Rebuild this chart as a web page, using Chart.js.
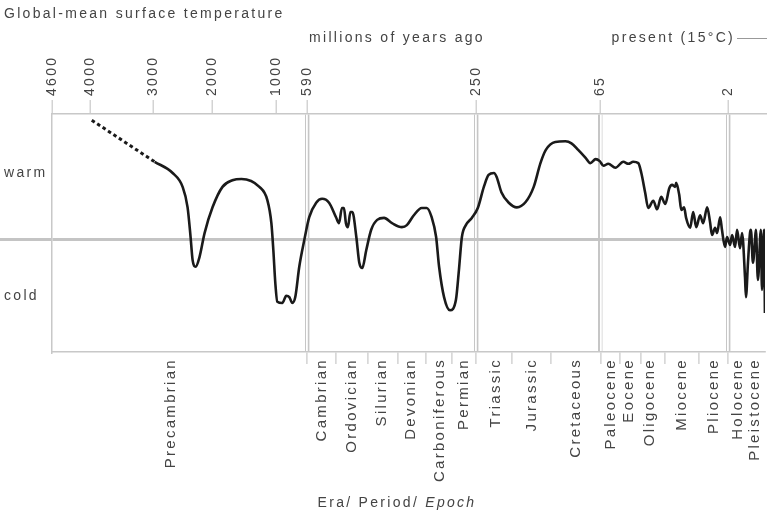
<!DOCTYPE html>
<html>
<head>
<meta charset="utf-8">
<style>
  body { margin: 0; background: #fff; }
  canvas { display: block; }
</style>
<script src="https://cdn.jsdelivr.net/npm/chart.js"></script>
</head>
<body>
<canvas id="lineSuhu" width="767" height="514"></canvas>
<script>
// age in millions of years ago, temperature relative to present (0 = 15°C)
var AGES_EARLY = [3970, 2967];
var TEMP_EARLY = [1.80, 1.17];

var AGES = [2967, 2667, 2500, 2417, 2367, 2333, 2283, 2217, 2133, 2000,
  1844, 1688, 1547, 1266, 1141, 1078, 1047, 1016, 987, 921,
  868, 828, 788, 749, 696, 630, 586, 572, 560, 546,
  532, 526, 520, 516, 512, 508, 503, 499, 491, 485,
  479, 471, 461, 449, 435, 419, 399, 389, 375, 359,
  349, 339, 330, 324, 314, 302, 290, 284, 278, 270,
  258, 247, 238, 231, 223, 219, 212, 201, 189, 176,
  164, 154, 146, 132, 117, 108, 98, 87, 80, 72,
  66, 63.5, 61.1, 57.6, 53.7, 51.2, 48.8, 46.3, 44.8, 42.9,
  41.4, 38.9, 37.0, 35.0, 33.0, 31.0, 29.6, 28.1, 27.6, 26.1,
  25.1, 23.7, 22.7, 20.7, 19.2, 17.7, 15.8, 14.3, 12.3, 10.9,
  9.9, 8.4, 7.4, 5.9, 5.0, 3.5, 2.5, 1.89, 1.78, 1.62,
  1.51, 1.35, 1.24, 1.08, 1.03, 0.92, 0.81, 0.76, 0.65, 0.54,
  0.49, 0.38, 0.22, 0.16, 0.05, 0];
var TEMP = [1.17, 1.00, 0.79, 0.48, 0.03, -0.32, -0.42, -0.27, 0.09, 0.48,
  0.79, 0.89, 0.91, 0.79, 0.59, 0.24, -0.17, -0.67, -0.95, -0.97,
  -0.86, -0.88, -0.97, -0.88, -0.42, -0.02, 0.33, 0.55, 0.61, 0.55,
  0.33, 0.24, 0.47, 0.47, 0.24, 0.18, 0.41, 0.41, 0.03, -0.36,
  -0.44, -0.17, 0.14, 0.29, 0.32, 0.24, 0.18, 0.21, 0.36, 0.47,
  0.47, 0.33, 0.03, -0.42, -0.88, -1.08, -0.92, -0.47, 0.03, 0.21,
  0.32, 0.47, 0.79, 0.97, 1.00, 0.94, 0.71, 0.55, 0.48, 0.56,
  0.79, 1.15, 1.35, 1.47, 1.48, 1.45, 1.35, 1.23, 1.15, 1.21,
  1.18, 1.11, 1.14, 1.08, 1.17, 1.14, 1.17, 1.15, 1.00, 0.70,
  0.47, 0.58, 0.45, 0.64, 0.53, 0.77, 0.82, 0.79, 0.85, 0.67,
  0.44, 0.48, 0.32, 0.17, 0.41, 0.18, 0.36, 0.24, 0.48, 0.26,
  0.06, 0.17, 0.09, 0.33, 0.14, -0.12, 0.03, -0.09, 0.06, -0.12,
  0.14, -0.14, 0.09, -0.58, -0.88, -0.36, 0.09, 0.14, -0.36, -0.02,
  0.14, -0.62, 0.14, -0.77, 0.14, -1.12];

var TICK_AGES = [4600, 4000, 3000, 2000, 1000, 590, 250, 65, 2];
var ERA_LINES = [590, 250, 65, 2];
var BOUNDARY_AGES = [590, 532, 467, 407, 351, 298, 250, 197, 139, 65, 55.6, 44.8, 33, 16.3, 2];
var PERIODS = ['Precambrian', 'Cambrian', 'Ordovician', 'Silurian', 'Devonian', 'Carboniferous', 'Permian',
  'Triassic', 'Jurassic', 'Cretaceous', 'Paleocene', 'Eocene', 'Oligocene', 'Miocene', 'Pliocene',
  'Holocene', 'Pleistocene'];
var PERIOD_AGES = [2700, 560, 501, 439, 381, 322, 274, 220, 167, 102, 60, 51.2, 40.4, 24.7, 8.9, 1.46, 0.54];

var Y_TICKS = [1, 0, -0.86];
var Y_LABELS = ['warm', '', 'cold'];

// the time axis is stretched piecewise: break ages and where they sit along the axis
var AGE_BREAKS = [4600, 4000, 3000, 2000, 1000, 590, 250, 65, 2, 0];
var POS_BREAKS = [0, 38, 101, 161, 225, 256, 425, 550, 678, 715];

function pos(age) {
  for (var i = 1; i < AGE_BREAKS.length; i++) {
    if (age >= AGE_BREAKS[i]) {
      var t = (AGE_BREAKS[i - 1] - age) / (AGE_BREAKS[i - 1] - AGE_BREAKS[i]);
      return POS_BREAKS[i - 1] + t * (POS_BREAKS[i] - POS_BREAKS[i - 1]);
    }
  }
  return POS_BREAKS[POS_BREAKS.length - 1];
}

function toPoints(ages, temps) {
  return ages.map(function (a, i) { return { x: pos(a), y: temps[i] }; });
}

// bottom axis: boundary marks (no label) + period names (no mark)
var bottomTicks = BOUNDARY_AGES.map(function (a) {
  return { value: pos(a), label: '', mark: true, era: ERA_LINES.indexOf(a) >= 0 };
}).concat(PERIOD_AGES.map(function (a, i) {
  return { value: pos(a), label: PERIODS[i], mark: false, era: false };
})).sort(function (p, q) { return p.value - q.value; });

var FONT = { family: '"Liberation Sans", Arial, sans-serif', size: 14 };
var TEXT = '#444';
var FRAME = '#c8c8c8';

var annotations = {
  id: 'annotations',
  beforeDraw: function (chart) {
    chart.ctx.letterSpacing = '2.3px';
  },
  afterDraw: function (chart) {
    var ctx = chart.ctx;
    ctx.save();
    ctx.letterSpacing = '2.3px';
    ctx.fillStyle = TEXT;
    ctx.textBaseline = 'middle';
    ctx.font = '14px "Liberation Sans", Arial, sans-serif';
    ctx.textAlign = 'center';
    ctx.fillText('millions of years ago', 397, 38);
    ctx.textAlign = 'right';
    ctx.fillText('present (15°C)', 735, 38);
    ctx.strokeStyle = '#999';
    ctx.lineWidth = 1;
    ctx.beginPath();
    ctx.moveTo(737, 38.5);
    ctx.lineTo(767, 38.5);
    ctx.stroke();

    ctx.textAlign = 'left';
    var w1 = ctx.measureText('Era/ Period/ ').width;
    ctx.font = 'italic 14px "Liberation Sans", Arial, sans-serif';
    var w2 = ctx.measureText('Epoch').width;
    var x0 = 397 - (w1 + w2) / 2;
    ctx.font = '14px "Liberation Sans", Arial, sans-serif';
    ctx.fillText('Era/ Period/ ', x0, 503);
    ctx.font = 'italic 14px "Liberation Sans", Arial, sans-serif';
    ctx.fillText('Epoch', x0 + w1, 503);
    ctx.restore();
  }
};

var getLS = document.getElementById('lineSuhu').getContext('2d');
var lineSuhu = new Chart(getLS, {
  type: 'line',
  data: {
    datasets: [{
      label: 'early estimate',
      data: toPoints(AGES_EARLY, TEMP_EARLY),
      borderColor: '#1a1a1a',
      borderWidth: 3,
      borderDash: [3.5, 3],
      pointRadius: 0,
      xAxisID: 'x',
      yAxisID: 'y'
    }, {
      label: 'Global-mean surface temperature',
      data: toPoints(AGES, TEMP),
      borderColor: '#1a1a1a',
      borderWidth: 2.6,
      cubicInterpolationMode: 'monotone',
      pointRadius: 0,
      xAxisID: 'x',
      yAxisID: 'y'
    }]
  },
  options: {
    responsive: false,
    animation: false,
    devicePixelRatio: 1,
    layout: { padding: { left: 4, right: 0, top: 0, bottom: 0 } },
    plugins: {
      legend: { display: false },
      tooltip: { enabled: false },
      title: {
        display: true,
        text: 'Global-mean surface temperature',
        align: 'start',
        color: TEXT,
        font: { family: FONT.family, size: 14, weight: 'normal' },
        padding: { top: 6, bottom: 0 }
      }
    },
    scales: {
      x2: {
        type: 'linear',
        position: 'top',
        min: 0,
        max: 715,
        afterBuildTicks: function (scale) {
          scale.ticks = TICK_AGES.map(function (a) { return { value: pos(a) }; });
        },
        afterFit: function (scale) { scale.height = 91.2; },
        ticks: {
          autoSkip: false,
          minRotation: 90,
          maxRotation: 90,
          padding: 4,
          labelOffset: 16.8,
          color: TEXT,
          font: FONT,
          callback: function (v, i) { return String(TICK_AGES[i]); }
        },
        grid: {
          z: -3,
          tickLength: 14,
          tickWidth: 1.2,
          tickColor: FRAME,
          color: function (c) { return ERA_LINES.indexOf(TICK_AGES[c.index]) >= 0 ? '#c6c6c6' : 'rgba(0,0,0,0)'; },
          lineWidth: 4.4
        },
        border: { display: true, color: FRAME, width: 1.5 }
      },
      x: {
        type: 'linear',
        position: 'bottom',
        min: 0,
        max: 715,
        afterBuildTicks: function (scale) {
          scale.ticks = bottomTicks.map(function (t) { return { value: t.value }; });
        },
        afterFit: function (scale) { scale.height = 162; },
        ticks: {
          autoSkip: false,
          minRotation: 90,
          maxRotation: 90,
          padding: -6,
          color: TEXT,
          font: { family: FONT.family, size: 15 },
          callback: function (v, i) { return bottomTicks[i].label; }
        },
        grid: {
          z: -2,
          tickLength: 12,
          tickWidth: 1.2,
          tickColor: function (c) { return bottomTicks[c.index] && bottomTicks[c.index].mark ? FRAME : 'rgba(0,0,0,0)'; },
          color: function (c) { return bottomTicks[c.index] && bottomTicks[c.index].era ? '#ffffff' : 'rgba(0,0,0,0)'; },
          lineWidth: 1.8
        },
        border: { display: true, color: FRAME, width: 1.5 }
      },
      y: {
        type: 'linear',
        position: 'left',
        min: -1.712,
        max: 1.894,
        afterBuildTicks: function (scale) {
          scale.ticks = Y_TICKS.map(function (v) { return { value: v }; });
        },
        afterFit: function (scale) { scale.width = 48; },
        ticks: {
          crossAlign: 'far',
          color: TEXT,
          font: FONT,
          callback: function (v, i) { return Y_LABELS[i]; }
        },
        grid: {
          z: -1,
          tickLength: 52,
          color: function (c) { return Y_TICKS[c.index] === 0 ? '#c4c4c4' : 'rgba(0,0,0,0)'; },
          tickColor: function (c) { return Y_TICKS[c.index] === 0 ? '#c4c4c4' : 'rgba(0,0,0,0)'; },
          lineWidth: 3,
          tickWidth: 3
        },
        border: { display: true, color: FRAME, width: 1.5 }
      }
    }
  },
  plugins: [annotations]
});
</script>
</body>
</html>
